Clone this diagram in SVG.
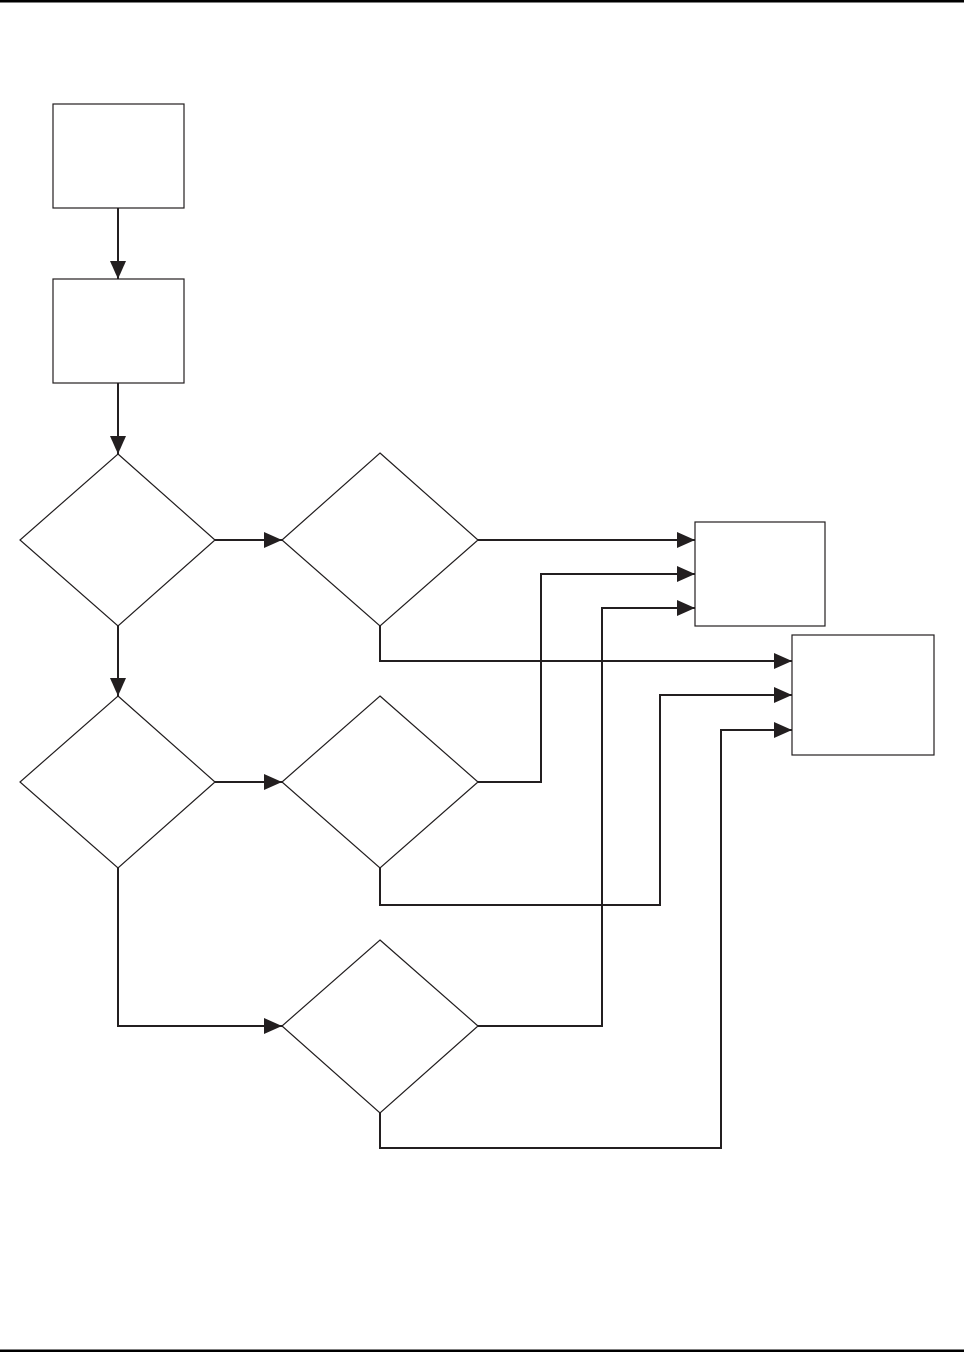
<svg xmlns="http://www.w3.org/2000/svg" width="964" height="1352" viewBox="0 0 964 1352">
<style>
.n{fill:#fff;stroke:#231f20;stroke-width:1.2}
.c{fill:none;stroke:#231f20;stroke-width:2}
.rule{stroke:#000;stroke-width:2.5}
</style>
<defs>
<marker id="a" viewBox="0 0 18 16" refX="18" refY="8" markerWidth="18" markerHeight="16" markerUnits="userSpaceOnUse" orient="auto">
<path d="M0,0 L18,8 L0,16 z" fill="#231f20"/>
</marker>
</defs>
<rect width="964" height="1352" fill="#fff"/>
<line class="rule" x1="0" y1="1.2" x2="964" y2="1.2"/>
<line class="rule" x1="0" y1="1350.8" x2="964" y2="1350.8"/>
<g id="connectors">
<path class="c" d="M118,208 V279" marker-end="url(#a)"/>
<path class="c" d="M118,383 V454" marker-end="url(#a)"/>
<path class="c" d="M215,540 H282" marker-end="url(#a)"/>
<path class="c" d="M118,626 V696" marker-end="url(#a)"/>
<path class="c" d="M215,782 H282" marker-end="url(#a)"/>
<path class="c" d="M118,868 V1026 H282" marker-end="url(#a)"/>
<path class="c" d="M478,540 H695" marker-end="url(#a)"/>
<path class="c" d="M380,626 V661 H792" marker-end="url(#a)"/>
<path class="c" d="M478,782 H541 V574 H695" marker-end="url(#a)"/>
<path class="c" d="M380,868 V905 H660 V695 H792" marker-end="url(#a)"/>
<path class="c" d="M478,1026 H602 V608 H695" marker-end="url(#a)"/>
<path class="c" d="M380,1113 V1148 H721 V730 H792" marker-end="url(#a)"/>
</g>
<g id="box1"><rect class="n" x="53" y="104" width="131" height="104"/></g>
<g id="box2"><rect class="n" x="53" y="279" width="131" height="104"/></g>
<g id="d1"><polygon class="n" points="118,454 215,540 118,626 20,540"/></g>
<g id="d2"><polygon class="n" points="380,453 478,540 380,626 282,540"/></g>
<g id="d3"><polygon class="n" points="118,696 215,782 118,868 20,782"/></g>
<g id="d4"><polygon class="n" points="380,696 478,782 380,868 282,782"/></g>
<g id="d5"><polygon class="n" points="380,940 478,1026 380,1113 282,1026"/></g>
<g id="box3"><rect class="n" x="695" y="522" width="130" height="104"/></g>
<g id="box4"><rect class="n" x="792" y="635" width="142" height="120"/></g>
</svg>
